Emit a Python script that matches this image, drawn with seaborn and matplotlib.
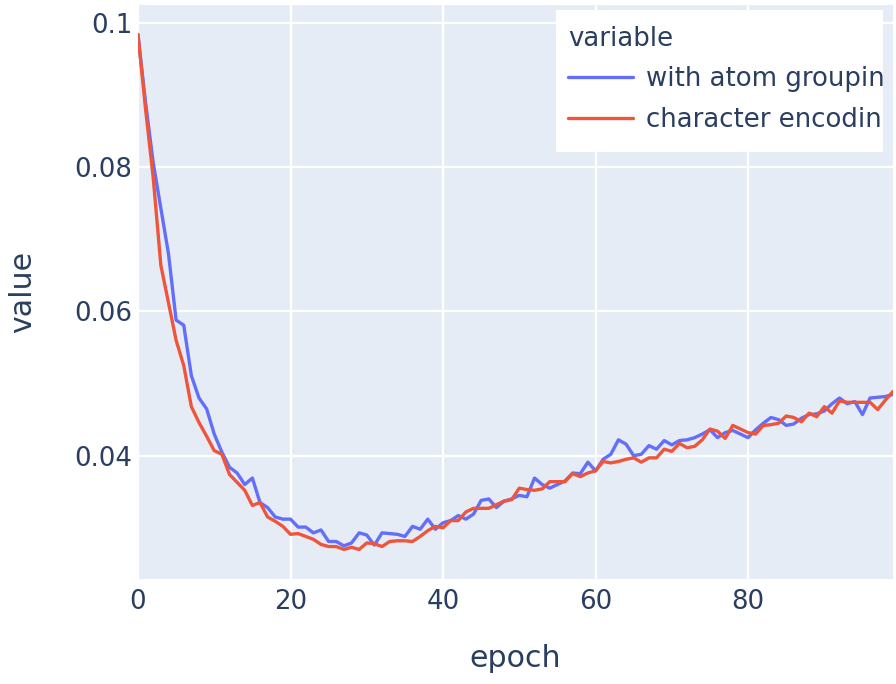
import matplotlib
matplotlib.use("Agg")
import matplotlib.pyplot as plt
import matplotlib.patches as mpatches
import pandas as pd
import seaborn as sns

# data
epochs = list(range(100))
series_names = ["with atom grouping", "character encoding"]

with_atom_grouping = [
    0.0984, 0.0889, 0.0806, 0.0743, 0.0680, 0.0588, 0.0581, 0.0511, 0.0480, 0.0465,
    0.0430, 0.0405, 0.0384, 0.0376, 0.0360, 0.0369, 0.0335, 0.0328, 0.0315, 0.0312,
    0.0312, 0.0301, 0.0301, 0.0293, 0.0297, 0.0281, 0.0281, 0.0275, 0.0279, 0.0293,
    0.0290, 0.0276, 0.0293, 0.0292, 0.0291, 0.0288, 0.0302, 0.0298, 0.0312, 0.0298,
    0.0307, 0.0310, 0.0317, 0.0312, 0.0319, 0.0338, 0.0340, 0.0328, 0.0337, 0.0340,
    0.0345, 0.0343, 0.0369, 0.0360, 0.0355, 0.0360, 0.0365, 0.0376, 0.0375, 0.0391,
    0.0379, 0.0395, 0.0402, 0.0422, 0.0416, 0.0400, 0.0402, 0.0414, 0.0409, 0.0421,
    0.0415, 0.0421, 0.0422, 0.0425, 0.0430, 0.0436, 0.0425, 0.0432, 0.0435, 0.0430,
    0.0425, 0.0436, 0.0445, 0.0453, 0.0450, 0.0442, 0.0444, 0.0452, 0.0457, 0.0458,
    0.0462, 0.0472, 0.0480, 0.0472, 0.0475, 0.0457, 0.0480, 0.0481, 0.0482, 0.0485,
]

character_encoding = [
    0.0984, 0.0880, 0.0785, 0.0664, 0.0612, 0.0560, 0.0525, 0.0468, 0.0446, 0.0427,
    0.0407, 0.0402, 0.0374, 0.0363, 0.0352, 0.0331, 0.0335, 0.0315, 0.0309, 0.0302,
    0.0291, 0.0292, 0.0288, 0.0284, 0.0277, 0.0274, 0.0274, 0.0270, 0.0273, 0.0270,
    0.0279, 0.0278, 0.0274, 0.0281, 0.0282, 0.0282, 0.0281, 0.0288, 0.0296, 0.0302,
    0.0300, 0.0310, 0.0310, 0.0322, 0.0327, 0.0327, 0.0327, 0.0332, 0.0337, 0.0339,
    0.0355, 0.0353, 0.0352, 0.0354, 0.0364, 0.0364, 0.0364, 0.0375, 0.0371, 0.0376,
    0.0379, 0.0392, 0.0390, 0.0392, 0.0395, 0.0397, 0.0391, 0.0397, 0.0397, 0.0409,
    0.0406, 0.0417, 0.0411, 0.0413, 0.0422, 0.0437, 0.0434, 0.0424, 0.0442, 0.0437,
    0.0432, 0.0430, 0.0442, 0.0443, 0.0445, 0.0455, 0.0453, 0.0447, 0.0459, 0.0454,
    0.0468, 0.0459, 0.0476, 0.0474, 0.0474, 0.0474, 0.0474, 0.0464, 0.0477, 0.0489,
]

x_ticks = [0, 20, 40, 60, 80]
y_ticks = [0.04, 0.06, 0.08, 0.1]
y_tick_labels = ["0.04", "0.06", "0.08", "0.1"]

text_color = "#2a3f5f"
palette = ["#636efa", "#EF553B"]

df = pd.concat([
    pd.DataFrame({"epoch": epochs, "variable": series_names[0], "value": with_atom_grouping}),
    pd.DataFrame({"epoch": epochs, "variable": series_names[1], "value": character_encoding}),
], ignore_index=True)

sns.set_style("darkgrid", {"axes.facecolor": "#E5ECF6", "grid.color": "white"})
plt.rcParams["font.family"] = ["DejaVu Sans"]

fig = plt.figure(figsize=(8.96, 6.84), dpi=100)
ax = fig.add_axes([0.154, 0.1535, 0.8426, 0.8392])

sns.lineplot(data=df, x="epoch", y="value", hue="variable", palette=palette,
             linewidth=2.4, ax=ax)

ax.set_xlim(0, 99)
ax.set_ylim(0.0229, 0.1025)
ax.set_xticks(x_ticks)
ax.set_yticks(y_ticks)
ax.set_yticklabels(y_tick_labels)
ax.grid(True, color="white", linewidth=1.6)
ax.tick_params(axis="both", length=0, labelsize=18.7, labelcolor=text_color)
ax.tick_params(axis="x", pad=7)
ax.tick_params(axis="y", pad=4)
for s in ax.spines.values():
    s.set_visible(False)

ax.set_xlabel("epoch", fontsize=21.6, color=text_color, labelpad=21)
ax.set_ylabel("value", fontsize=21.6, color=text_color, labelpad=27)

# legend box: white and narrower than the labels, so they are cut as in the original
box = mpatches.Rectangle((0.5536, 0.7439), 0.4332, 0.2474, transform=ax.transAxes,
                         facecolor="white", edgecolor="none", zorder=4)
ax.add_patch(box)

handles, labels = ax.get_legend_handles_labels()
leg = ax.legend(handles, labels, title="variable", loc="upper left",
                bbox_to_anchor=(0.548, 0.9913), frameon=False,
                fontsize=18.7, title_fontsize=18.7, handlelength=2.5,
                handletextpad=0.5, labelspacing=0.55, borderpad=0.62,
                borderaxespad=0, alignment="left")
leg.set_zorder(5)
leg.get_title().set_color(text_color)
for t in leg.get_texts():
    t.set_color(text_color)
    t.set_clip_on(True)
    t.set_clip_path(box)
for h in leg.legend_handles:
    h.set_linewidth(2.4)

fig.savefig("out.png", dpi=100)
